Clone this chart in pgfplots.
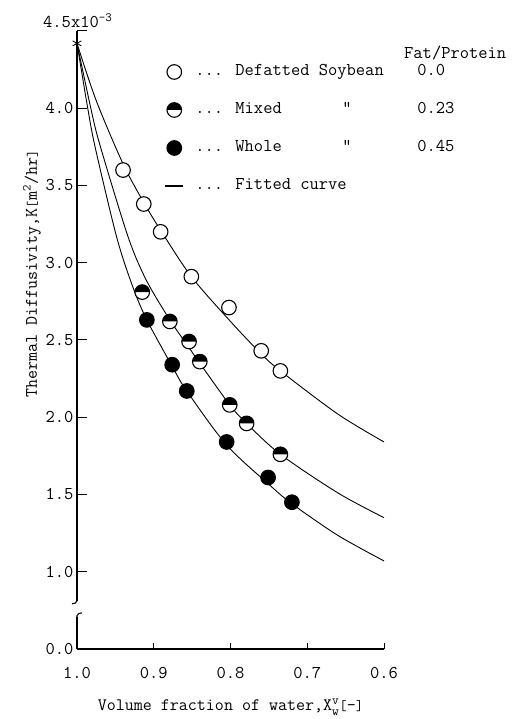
\documentclass[border=0pt]{standalone}
\usepackage{pgfplots}
\pgfplotsset{compat=1.18}
\usepackage{fontspec}

% circle whose upper half is filled black
\pgfdeclareplotmark{halfdisc}{%
  \pgfpathcircle{\pgfpointorigin}{\pgfplotmarksize}%
  \pgfsetfillcolor{white}\pgfusepath{fill}%
  \pgfpathmoveto{\pgfpoint{-\pgfplotmarksize}{0pt}}%
  \pgfpatharc{180}{0}{\pgfplotmarksize}%
  \pgfpathclose
  \pgfsetfillcolor{black}\pgfusepath{fill}%
  \pgfpathcircle{\pgfpointorigin}{\pgfplotmarksize}%
  \pgfusepath{stroke}%
}

\pgfplotsset{
  markleg/.style={legend image code/.code={%
    \path[draw=none,fill=none] (0bp,0bp) -- (28.5bp,0bp);
    \draw[##1] plot coordinates {(7.5bp,0bp)};}},
  lineleg/.style={legend image code/.code={%
    \path[draw=none,fill=none] (0bp,0bp) -- (28.5bp,0bp);
    \draw[black, line width=1.6bp, line cap=butt] (-1.5bp,0bp) -- (16bp,0bp);}},
}

\newcommand{\fnt}{\ttfamily\fontsize{18bp}{21bp}\selectfont}
\newcommand{\lfnt}{\ttfamily\fontsize{17.5bp}{21bp}\selectfont}
\newcommand{\sfnt}{\ttfamily\fontsize{13bp}{14bp}\selectfont}

\begin{document}
\begin{tikzpicture}[x=1bp,y=1bp]
\useasboundingbox (0,0) rectangle (512,719);
\begin{axis}[
  at={(77bp,70bp)}, anchor=south west,
  scale only axis, width=307bp, height=618bp,
  xmin=0.6, xmax=1.0, ymin=0.5, ymax=4.5,
  x dir=reverse,
  axis x line*=bottom, axis y line*=left,
  axis line style={line width=1.1bp, -},
  clip=false,
  xtick={0.6,0.7,0.8,0.9,1.0},
  xticklabels={0.6,0.7,0.8,0.9,1.0},
  ytick={0.5,1,1.5,2,2.5,3,3.5,4,4.5},
  yticklabels={0.0,1.0,1.5,2.0,2.5,3.0,3.5,4.0,},
  tick align=inside,
  xtick style={line width=1bp, black, /pgfplots/major tick length=6bp},
  ytick style={line width=1bp, black, /pgfplots/major tick length=10bp},
  ticklabel style={font=\fnt},
  xticklabel style={yshift=-15bp},
  xlabel={Volume fraction of water,X$^{\mbox{\sfnt v}}_{\mbox{\sfnt w}}${\Large[}-{\Large]}},
  xlabel style={at={(axis description cs:0.5,-0.0939)}, anchor=center, font=\lfnt},
  ylabel={Thermal Diffusivity,K{\Large[}m\textsuperscript{2}/hr{\Large]}},
  ylabel style={at={(axis description cs:-0.1466,0.607)}, anchor=center, font=\lfnt},
  legend style={draw=none, fill=none, inner sep=0pt, outer sep=0pt,
    at={(axis description cs:0.285,0.9466)}, anchor=north west,
    row sep=22bp, font=\fnt,
    nodes={inner sep=0pt, text height=12bp, text depth=4bp}},
  legend cell align=left,
]
% legend images
\addlegendimage{markleg, mark=*, mark size=7.3bp, mark options={fill=white, draw=black, line width=1.1bp}}
\addlegendentry{\makebox[222bp][l]{... Defatted Soybean}0.0}
\addlegendimage{markleg, mark=halfdisc, mark size=7.3bp, mark options={draw=black, line width=1.1bp}}
\addlegendentry{\makebox[147bp][l]{... Mixed}\makebox[75bp][l]{"}0.23}
\addlegendimage{markleg, mark=*, mark size=7.3bp, mark options={fill=black, draw=black, line width=1.1bp}}
\addlegendentry{\makebox[147bp][l]{... Whole}\makebox[75bp][l]{"}0.45}
\addlegendimage{lineleg}
\addlegendentry{... Fitted curve}

% fitted curves
\addplot[forget plot, black, line width=0.9bp, smooth, tension=0.5] coordinates {
  (1.0,4.42) (0.975,4.05) (0.94,3.64) (0.913,3.39) (0.891,3.21) (0.851,2.91)
  (0.80,2.62) (0.76,2.41) (0.735,2.30) (0.66,2.02) (0.6,1.84)};
\addplot[forget plot, black, line width=0.9bp, smooth, tension=0.5] coordinates {
  (1.0,4.42) (0.982,4.00) (0.970,3.76) (0.9336,3.17) (0.91,2.89) (0.879,2.63)
  (0.854,2.45) (0.84,2.35) (0.801,2.08) (0.779,1.96) (0.735,1.76) (0.66,1.51) (0.6,1.35)};
\addplot[forget plot, black, line width=0.9bp, smooth, tension=0.5] coordinates {
  (1.0,4.42) (0.986,4.0) (0.976,3.74) (0.948,3.16) (0.927,2.84) (0.909,2.63)
  (0.876,2.33) (0.857,2.17) (0.805,1.82) (0.751,1.57) (0.72,1.44) (0.66,1.235) (0.6,1.07)};

% pure water value
\addplot[forget plot, only marks, mark=asterisk, mark size=5bp, line width=0.8bp, black] coordinates {(1.0,4.42)};

% defatted soybean
\addplot[forget plot, only marks, mark=*, mark size=7.3bp, mark options={fill=white, draw=black, line width=1.1bp}] coordinates {
  (0.940,3.60) (0.913,3.38) (0.891,3.20) (0.851,2.91) (0.802,2.71) (0.760,2.43) (0.735,2.30)};
% mixed
\addplot[forget plot, only marks, mark=halfdisc, mark size=7.3bp, mark options={draw=black, line width=1.1bp}] coordinates {
  (0.915,2.81) (0.879,2.62) (0.854,2.49) (0.840,2.36) (0.801,2.08) (0.779,1.96) (0.735,1.76)};
% whole
\addplot[forget plot, only marks, mark=*, mark size=7.3bp, mark options={fill=black, draw=black, line width=1.1bp}] coordinates {
  (0.909,2.63) (0.876,2.34) (0.857,2.17) (0.805,1.84) (0.751,1.61) (0.720,1.45)};

\coordinate (brk) at (axis cs:1.0,0.76);
\end{axis}

% break in the ordinate
\fill[white] ([shift={(-3bp,-8bp)}]brk) rectangle ([shift={(3bp,8bp)}]brk);
\draw[line width=1.1bp] ([shift={(0bp,9bp)}]brk) -- ([shift={(0bp,8bp)}]brk)
  to[out=-90,in=10] ([shift={(-5bp,5bp)}]brk);
\draw[line width=1.1bp] ([shift={(0bp,-9bp)}]brk) -- ([shift={(0bp,-7bp)}]brk)
  to[out=90,in=190] ([shift={(5bp,-4bp)}]brk);

% scale factor and legend header
\node[anchor=base west, inner sep=0pt, font=\fnt] at (43,691) {4.5x10\textsuperscript{-3}};
\node[anchor=base west, inner sep=0pt, font=\fnt] at (404,660) {Fat/Protein};
\end{tikzpicture}
\end{document}
